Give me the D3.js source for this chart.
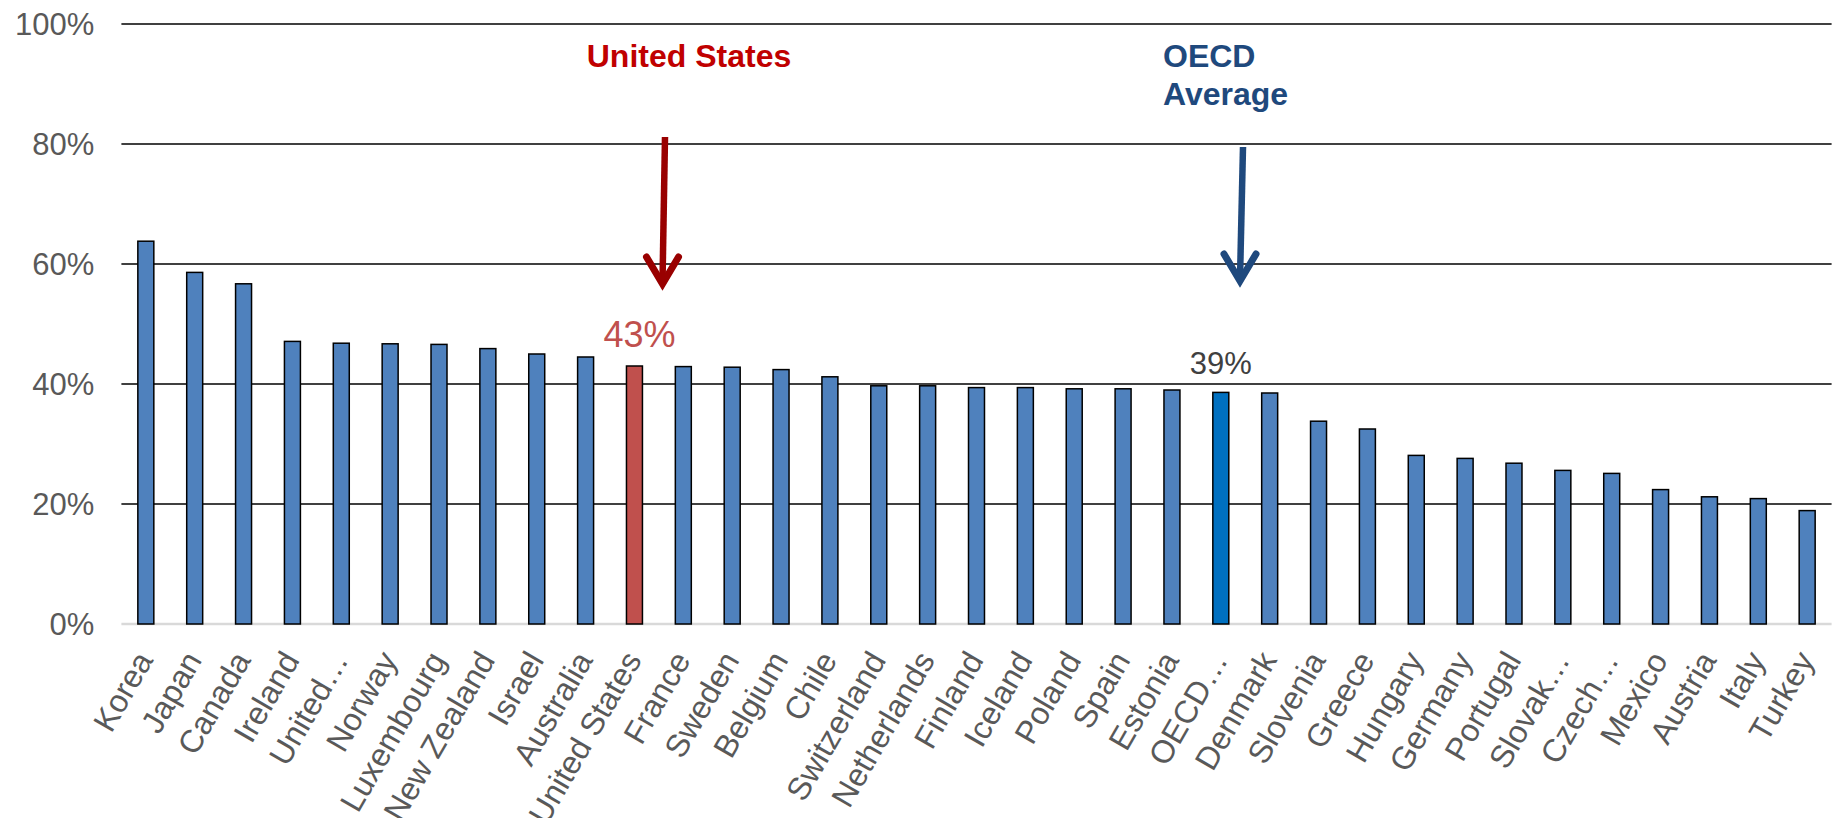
<!DOCTYPE html>
<html>
<head>
<meta charset="utf-8">
<script src="https://cdn.jsdelivr.net/npm/d3@7"></script>
<style>
  html, body { margin: 0; padding: 0; background: #fff; }
  svg { display: block; font-family: "Liberation Sans", Arial, sans-serif; }
</style>
</head>
<body>
<svg id="chart" width="1841" height="818"></svg>
<script>
// ---- data ----
const categories = ["Korea","Japan","Canada","Ireland","United\u2026","Norway","Luxembourg","New Zealand","Israel","Australia","United States","France","Sweden","Belgium","Chile","Switzerland","Netherlands","Finland","Iceland","Poland","Spain","Estonia","OECD\u2026","Denmark","Slovenia","Greece","Hungary","Germany","Portugal","Slovak\u2026","Czech\u2026","Mexico","Austria","Italy","Turkey"];
const values = [63.8,58.6,56.7,47.1,46.8,46.7,46.6,45.9,45.0,44.5,43.0,42.9,42.8,42.4,41.2,39.7,39.7,39.4,39.4,39.2,39.2,39.0,38.6,38.5,33.8,32.5,28.1,27.6,26.8,25.6,25.1,22.4,21.2,20.9,18.9];
const yTicks = [0,20,40,60,80,100];
const usCategory = "United States";
const oecdCategory = "OECD\u2026";
const usLabel = "43%";
const oecdLabel = "39%";
const usTitle = ["United States"];
const oecdTitle = ["OECD","Average"];

(function () {
// ---- layout ----
const svg = d3.select("#chart");
const pLeft = 121.4, pRight = 1831.6, pTop = 24, pBottom = 624;
const pInner = 0.673;
const x = d3.scaleBand().domain(categories).range([pLeft, pRight]).paddingInner(pInner).paddingOuter(pInner/2);
const y = d3.scaleLinear().domain([0,100]).range([pBottom, pTop]);

// gridlines
svg.append("g").selectAll("line").data(yTicks.filter(d => d > 0)).join("line")
  .attr("x1", pLeft).attr("x2", pRight)
  .attr("y1", d => y(d)).attr("y2", d => y(d))
  .attr("stroke", "#000").attr("stroke-width", 1.6);

// baseline
svg.append("line").attr("x1", pLeft).attr("x2", pRight).attr("y1", y(0)).attr("y2", y(0))
  .attr("stroke", "#D9D9D9").attr("stroke-width", 2.5);

// y axis
const yAxis = svg.append("g").attr("transform", `translate(${pLeft},0)`)
  .call(d3.axisLeft(y).tickValues(yTicks).tickFormat(d => d + "%").tickSize(0).tickPadding(27));
yAxis.select(".domain").remove();
yAxis.selectAll("text").attr("font-size", 31).attr("fill", "#595959")
  .attr("font-family", "Liberation Sans, Arial, sans-serif").attr("dy", "0.35em");

// bars
const colorFor = d => d === usCategory ? "#C0504D" : (d === oecdCategory ? "#0070C0" : "#4F81BD");
svg.append("g").selectAll("rect").data(categories).join("rect")
  .attr("x", d => x(d)).attr("width", x.bandwidth())
  .attr("y", (d,i) => y(values[i])).attr("height", (d,i) => y(0) - y(values[i]))
  .attr("fill", colorFor).attr("stroke", "#000").attr("stroke-width", 1.5);

// x axis labels
const xAxis = svg.append("g").attr("transform", `translate(0,${y(0)})`)
  .call(d3.axisBottom(x).tickSize(0).tickPadding(0));
xAxis.select(".domain").remove();
xAxis.selectAll(".tick text")
  .attr("font-size", 32).attr("fill", "#595959")
  .attr("font-family", "Liberation Sans, Arial, sans-serif")
  .attr("text-anchor", "end").attr("dy", null).attr("y", null)
  .attr("transform", "translate(8,36) rotate(-60)");

// value labels
const usIdx = categories.indexOf(usCategory), oecdIdx = categories.indexOf(oecdCategory);
svg.append("text").attr("x", x(usCategory) + x.bandwidth()/2 + 5).attr("y", y(values[usIdx]) - 19)
  .attr("text-anchor", "middle").attr("font-size", 36).attr("fill", "#C0504D").text(usLabel);
svg.append("text").attr("x", x(oecdCategory) + x.bandwidth()/2).attr("y", y(values[oecdIdx]) - 18)
  .attr("text-anchor", "middle").attr("font-size", 31).attr("fill", "#404040").text(oecdLabel);

// annotation titles
svg.append("text").attr("x", 689).attr("y", 67).attr("text-anchor", "middle")
  .attr("font-size", 32).attr("font-weight", "bold").attr("fill", "#C00000").text(usTitle[0]);
svg.append("g").selectAll("text").data(oecdTitle).join("text")
  .attr("x", 1163).attr("y", (d,i) => 67 + i*38)
  .attr("font-size", 32).attr("font-weight", "bold").attr("fill", "#1F497D").text(d => d);

// arrows
function arrow(x0, y0, x1, y1, color) {
  const g = svg.append("g").attr("stroke", color).attr("fill", "none")
    .attr("stroke-width", 6.5).attr("stroke-linecap", "butt").attr("stroke-linejoin", "miter");
  g.append("line").attr("x1", x0).attr("y1", y0).attr("x2", x1).attr("y2", y1 - 6);
  g.append("path").attr("d", `M${x1-16},${y1-31} L${x1},${y1-4} L${x1+16},${y1-31}`)
    .attr("stroke-width", 7).attr("stroke-linecap", "round");
}
arrow(665, 137, 662.5, 288, "#990000");
arrow(1243, 147, 1240, 285, "#1F497D");
})();
</script>
</body>
</html>
